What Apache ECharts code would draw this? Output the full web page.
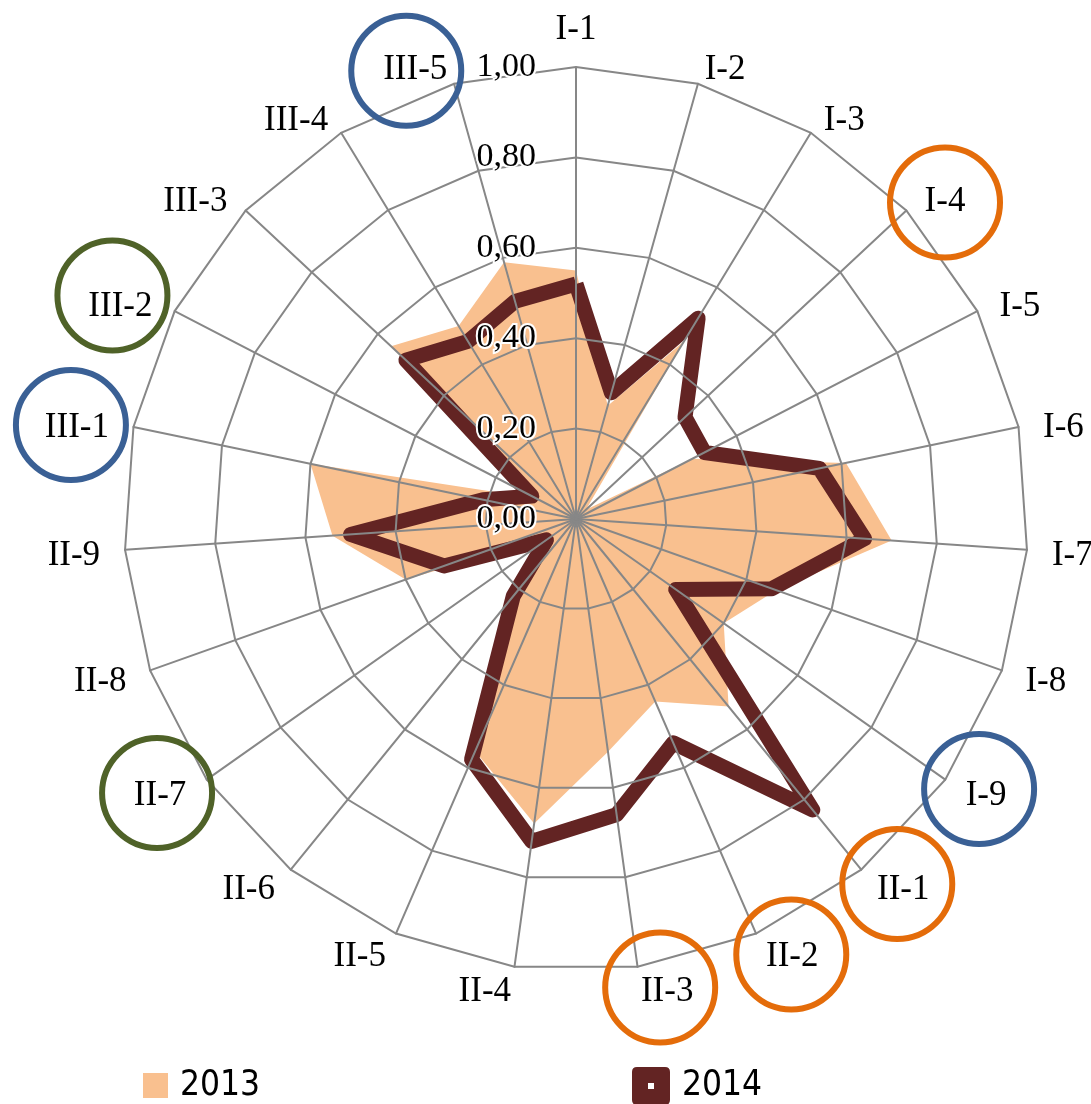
<!DOCTYPE html>
<html>
<head>
<meta charset="utf-8">
<script src="https://cdn.jsdelivr.net/npm/echarts@6/dist/echarts.min.js"></script>
<style>
  html, body { margin: 0; padding: 0; background: #fff; }
  #chart { width: 1091px; height: 1104px; }
</style>
</head>
<body>
<div id="chart"></div>
<script>
// Indicators, listed clockwise starting from the top
const categories = [
  'I-1', 'I-2', 'I-3', 'I-4', 'I-5', 'I-6', 'I-7', 'I-8', 'I-9',
  'II-1', 'II-2', 'II-3', 'II-4', 'II-5', 'II-6', 'II-7', 'II-8', 'II-9',
  'III-1', 'III-2', 'III-3', 'III-4', 'III-5'
];
const values2013 = [
  0.55, 0.26, 0.46, 0.03, 0.29, 0.61, 0.70, 0.47, 0.40,
  0.535, 0.44, 0.52, 0.68, 0.56, 0.18, 0.07, 0.40, 0.54,
  0.60, 0.10, 0.56, 0.50, 0.59
];
const values2014 = [
  0.52, 0.29, 0.52, 0.33, 0.32, 0.55, 0.64, 0.46, 0.27,
  0.83, 0.54, 0.66, 0.72, 0.58, 0.22, 0.08, 0.31, 0.50,
  0.21, 0.11, 0.515, 0.46, 0.50
];
const tickLabels = ['0,00', '0,20', '0,40', '0,60', '0,80', '1,00'];
const seriesNames = ['2013', '2014'];

// Indicator names ringed on the chart
const ringedNames = ['III-5', 'I-4', 'III-2', 'III-1', 'I-9', 'II-1', 'II-2', 'II-3', 'II-7'];
const ringColors = ['#3A6095', '#E46C0A', '#4F6228', '#3A6095', '#3A6095', '#E46C0A', '#E46C0A', '#E46C0A', '#4F6228'];
// Small hand adjustments of each ring relative to its name
const ringNudge = [[-9, 6], [0, 4], [-8, -9], [-6, -2], [-7, -10], [-6, -10], [-1, -7], [-7, -9], [-3, -6]];

const CX = 576, CY = 519, R = 452, NAME_GAP = 25;
const SERIF = '"Liberation Serif", "Times New Roman", serif';
const NAME_SIZE = 35;
const NAME_DROP = 5;          // names sit slightly below their axis direction
const NAME_TILT = 5;          // upper names drop a little more, lower ones a little less
const TICK_SIZE = 34;
const COLOR_2013 = '#F9C08F';
const COLOR_2014 = '#632423';
const GRID_GRAY = '#878787';

// ECharts runs radar indicators counter-clockwise; keep the first and reverse the rest
const order = [0].concat(categories.map((_, i) => i).slice(1).reverse());
const pick = arr => order.map(i => arr[i]);

const chart = echarts.init(document.getElementById('chart'), null, { renderer: 'canvas' });

// Indicator names placed just beyond the outer ring, left/right aligned by side
const measureCtx = document.createElement('canvas').getContext('2d');
measureCtx.font = NAME_SIZE + 'px ' + SERIF;
const n = categories.length;
const nameLayout = categories.map((name, i) => {
  const a = i * 2 * Math.PI / n;
  const s = Math.sin(a), c = Math.cos(a);
  const x = CX + (R + NAME_GAP) * s;
  const y = CY - (R + NAME_GAP) * c + NAME_DROP;
  const w = measureCtx.measureText(name).width;
  const side = Math.abs(s) > 0.01 ? Math.sign(s) : 0;
  return {
    name, x, side,
    y: side === 0 ? y : y + NAME_TILT * c,
    align: side > 0 ? 'left' : side < 0 ? 'right' : 'center',
    vAlign: side === 0 ? 'bottom' : 'middle',
    midX: x + side * w / 2,
    midY: side === 0 ? y - NAME_SIZE / 2 : y
  };
});

const nameTexts = nameLayout.map(l => ({
  type: 'text',
  z: 50,
  style: {
    text: l.name,
    x: l.x,
    y: l.y,
    align: l.align,
    verticalAlign: l.vAlign,
    fontFamily: SERIF,
    fontSize: NAME_SIZE,
    fill: '#000'
  }
}));

const rings = ringedNames.map((name, k) => {
  const l = nameLayout[categories.indexOf(name)];
  return {
    type: 'circle',
    z: 100,
    shape: { cx: l.midX + ringNudge[k][0], cy: l.midY + ringNudge[k][1], r: 55 },
    style: { fill: 'none', stroke: ringColors[k], lineWidth: 6 }
  };
});

const legendText = {
  fontFamily: '"DejaVu Sans Condensed", "Liberation Sans Narrow", sans-serif',
  fontSize: 35,
  color: '#000',
  padding: [6, 0, 0, 7]
};

chart.setOption({
  backgroundColor: '#fff',
  animation: false,
  radar: {
    center: [CX, CY],
    radius: R,
    startAngle: 90,
    min: 0,
    max: 1,
    splitNumber: 5,
    shape: 'polygon',
    z: 5,
    axisName: { show: false },
    indicator: pick(categories).map(name => ({ name: name, min: 0, max: 1 })),
    axisLine: { lineStyle: { color: GRID_GRAY, width: 2 } },
    splitLine: { lineStyle: { color: GRID_GRAY, width: 2 } },
    splitArea: { show: false },
    axisTick: { show: false },
    axisLabel: { show: false }
  },
  // Value scale printed beside the I-1 axis
  grid: { left: CX, top: CY - R, height: R, width: 10, containLabel: false },
  xAxis: { type: 'value', show: false },
  yAxis: {
    type: 'value',
    min: 0,
    max: 1,
    interval: 0.2,
    z: 20,
    axisLine: { show: false },
    axisTick: { show: false },
    splitLine: { show: false },
    axisLabel: {
      margin: 40,
      fontFamily: SERIF,
      fontSize: TICK_SIZE,
      color: '#000',
      textBorderColor: '#fff',
      textBorderWidth: 4,
      formatter: v => tickLabels[Math.round(v / 0.2)]
    }
  },
  legend: [
    {
      data: [{ name: seriesNames[0], itemStyle: { color: COLOR_2013, borderWidth: 0 } }],
      left: 143, top: 1068, padding: 0,
      icon: 'rect', itemWidth: 25, itemHeight: 25,
      textStyle: legendText, selectedMode: false
    },
    {
      data: [{ name: seriesNames[1], itemStyle: { color: COLOR_2014, borderWidth: 0 } }],
      left: 632, top: 1067, padding: 0,
      icon: 'path://M5,0 H33 Q38,0 38,5 V33 Q38,38 33,38 H5 Q0,38 0,33 V5 Q0,0 5,0 Z M16,16 V22 H22 V16 Z',
      itemWidth: 38, itemHeight: 38,
      textStyle: legendText, selectedMode: false
    }
  ],
  graphic: nameTexts.concat(rings),
  series: [
    {
      name: seriesNames[0],
      type: 'radar',
      z: 2,
      symbol: 'none',
      itemStyle: { color: COLOR_2013 },
      lineStyle: { width: 0 },
      areaStyle: { color: COLOR_2013, opacity: 1 },
      data: [{ name: seriesNames[0], value: pick(values2013) }]
    },
    {
      name: seriesNames[1],
      type: 'radar',
      z: 3,
      symbol: 'none',
      itemStyle: { color: COLOR_2014 },
      lineStyle: { color: COLOR_2014, width: 15, join: 'round' },
      data: [{ name: seriesNames[1], value: pick(values2014) }]
    }
  ]
});
</script>
</body>
</html>
